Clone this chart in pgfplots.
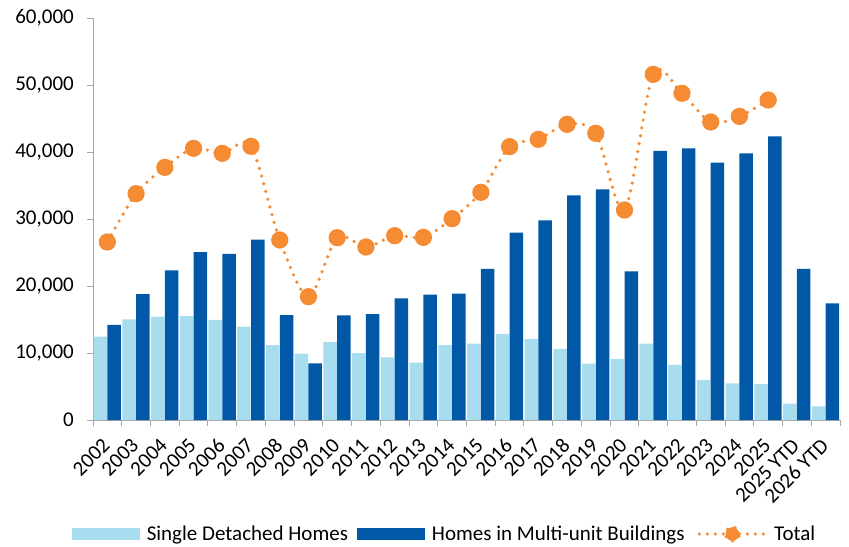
\documentclass[border=0pt]{standalone}
\usepackage{fontspec}
\setmainfont{Carlito}
\usepackage{pgfplots}
\pgfplotsset{compat=1.18}
\definecolor{lightb}{HTML}{A7DDEF}
\definecolor{darkb}{HTML}{0058A6}
\definecolor{orangec}{HTML}{F58B32}
\definecolor{axgray}{HTML}{A6A6A6}
\begin{document}
\begin{tikzpicture}[font=\fontsize{21bp}{25bp}\selectfont]
\begin{axis}[
  scale only axis, width=747bp, height=402bp,
  xmin=-0.5, xmax=25.5, ymin=0, ymax=60000,
  axis lines=left,
  x axis line style={-, draw=axgray, line width=1pt},
  y axis line style={-, draw=axgray, line width=1pt},
  tick align=outside, major tick length=6bp,
  tick style={draw=axgray, line width=1pt},
  ytick={0,10000,20000,30000,40000,50000,60000},
  scaled y ticks=false,
  /pgf/number format/fixed,
  /pgf/number format/1000 sep={,},
  /pgf/number format/assume math mode=true,
  yticklabel style={inner sep=0pt, xshift=-13bp},
  xtick={-0.5,0.5,...,25.5},
  xticklabels={},
  extra x ticks={0,1,...,25},
  extra x tick labels={2002,2003,2004,2005,2006,2007,2008,2009,2010,2011,2012,2013,2014,2015,2016,2017,2018,2019,2020,2021,2022,2023,2024,2025,2025 YTD,2026 YTD},
  extra x tick style={major tick length=0pt, xticklabel style={inner sep=0pt, xshift=-6bp, yshift=-17bp, rotate=45, anchor=north east}},
  legend columns=-1,
  legend style={draw=none, at={(0.4706,-0.2836)}, anchor=center, font=\fontsize{21bp}{25bp}\selectfont,
    column sep=0pt},
  clip=false,
]
\addplot[ybar, fill=lightb, draw=none, bar width=0.47, bar shift=-0.245,
  legend image code/.code={\fill[lightb] (0bp,-6bp) rectangle (68bp,6bp); \path (73bp,0bp);}]
 coordinates {(0,12430) (1,15030) (2,15420) (3,15520) (4,14930) (5,13930) (6,11190) (7,9900) (8,11640) (9,10000) (10,9350) (11,8560) (12,11190) (13,11390) (14,12840) (15,12090) (16,10600) (17,8410) (18,9100) (19,11390) (20,8210) (21,5970) (22,5470) (23,5370) (24,2430) (25,2040)};
\addlegendentry{Single Detached Homes\hspace*{7bp}}
\addplot[ybar, fill=darkb, draw=none, bar width=0.47, bar shift=0.235,
  legend image code/.code={\fill[darkb] (0bp,-6bp) rectangle (68bp,6bp); \path (73bp,0bp);}]
 coordinates {(0,14180) (1,18800) (2,22340) (3,25070) (4,24780) (5,26910) (6,15670) (7,8460) (8,15620) (9,15820) (10,18160) (11,18710) (12,18860) (13,22540) (14,27960) (15,29800) (16,33530) (17,34430) (18,22190) (19,40150) (20,40550) (21,38410) (22,39800) (23,42340) (24,22540) (25,17410)};
\addlegendentry{Homes in Multi-unit Buildings\hspace*{11bp}}
\addplot[smooth, draw=orangec, line width=3.6bp, dash pattern=on 0bp off 8bp, line cap=round,
  mark=*, mark size=6.8bp, mark options={solid, fill=orangec, draw=none},
  legend image code/.code={\draw[orangec, line width=3.6bp, dash pattern=on 0bp off 8bp, line cap=round] (2bp,0bp) -- (68bp,0bp); \fill[orangec] (35bp,0bp) circle (6.8bp); \path (73bp,0bp);}]
 coordinates {(0,26570) (1,33780) (2,37710) (3,40550) (4,39800) (5,40850) (6,26870) (7,18410) (8,27210) (9,25820) (10,27510) (11,27260) (12,30050) (13,33980) (14,40800) (15,41890) (16,44130) (17,42790) (18,31340) (19,51590) (20,48760) (21,44480) (22,45320) (23,47760)};
\addlegendentry{Total}
\coordinate (o) at (rel axis cs:0,0);
\end{axis}
\path ([shift={(-93bp,-124bp)}]o) rectangle ++(849bp,544bp);
\end{tikzpicture}
\end{document}
